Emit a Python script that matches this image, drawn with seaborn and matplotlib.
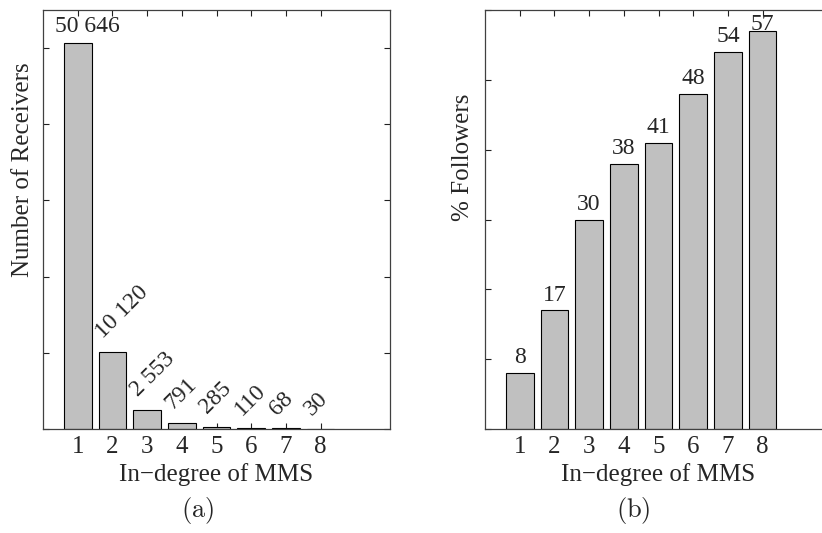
import numpy as np
import seaborn as sns
import matplotlib.pyplot as plt

# data
in_degree = [1, 2, 3, 4, 5, 6, 7, 8]
receivers = [50646, 10120, 2553, 791, 285, 110, 68, 30]
followers_pct = [8, 17, 30, 38, 41, 48, 54, 57]

receiver_labels = ["50 646", "10 120", "2 553", "791", "285", "110", "68", "30"]
follower_labels = [str(v) for v in followers_pct]

sns.set_style("ticks")
plt.rcParams['font.family'] = ['Liberation Serif', 'DejaVu Serif']
plt.rcParams['mathtext.fontset'] = 'cm'

BAR = '#c0c0c0'
SPINE = '#404040'

fig = plt.figure(figsize=(8.22, 5.33), dpi=100)
W, H = 822, 533
ax1 = fig.add_axes([43 / W, (H - 429) / H, 347 / W, 419 / H])
ax2 = fig.add_axes([485 / W, (H - 429) / H, 347 / W, 419 / H])


def style_axes(ax, ymax, ystep):
    ax.set_xlim(0, 10)
    ax.set_ylim(0, ymax)
    ax.set_xticks(in_degree)
    ax.set_xticklabels([str(d) for d in in_degree])
    ax.set_yticks(np.arange(0, ymax + 1, ystep))
    ax.tick_params(direction='in', top=True, right=True, length=4, width=0.8,
                   color='#202020', labelleft=False, labelsize=18, pad=5)
    for s in ax.spines.values():
        s.set_visible(True)
        s.set_color(SPINE)
        s.set_linewidth(0.9)
    ax.set_xlabel("In\u2212degree of MMS", fontsize=18, labelpad=4)


# (a) number of receivers
sns.barplot(x=in_degree, y=receivers, native_scale=True, width=0.8, color=BAR,
            saturation=1, edgecolor='black', linewidth=0.8, ax=ax1)
style_axes(ax1, 55000, 10000)
ax1.set_ylabel("Number of Receivers", fontsize=18)
ax1.yaxis.set_label_coords(-0.027, 0.618)

for i, (x, v, lab) in enumerate(zip(in_degree, receivers, receiver_labels)):
    if i == 0:
        ax1.annotate(lab, xy=(x, v), xytext=(7, 8), textcoords='offset points',
                     ha='center', va='baseline', fontsize=17)
    else:
        ax1.annotate(lab, xy=(x, v), xytext=(-6.5, 9), textcoords='offset points',
                     rotation=45, rotation_mode='anchor', ha='left', va='baseline',
                     fontsize=17)

# (b) percentage of followers
sns.barplot(x=in_degree, y=followers_pct, native_scale=True, width=0.8, color=BAR,
            saturation=1, edgecolor='black', linewidth=0.8, ax=ax2)
style_axes(ax2, 60, 10)
ax2.set_ylabel("% Followers", fontsize=18)
ax2.yaxis.set_label_coords(-0.032, 0.649)

for x, v, lab in zip(in_degree, followers_pct, follower_labels):
    y = min(v + 1.4, 60 - 2.9)
    ax2.text(x, y, lab, ha='center', va='baseline', fontsize=17)

fig.text(198 / W, 1 - 511 / H, r'$\mathrm{(a)}$', ha='center', va='center', fontsize=19)
fig.text(633 / W, 1 - 511 / H, r'$\mathrm{(b)}$', ha='center', va='center', fontsize=19)

fig.savefig("out.png", dpi=100)
